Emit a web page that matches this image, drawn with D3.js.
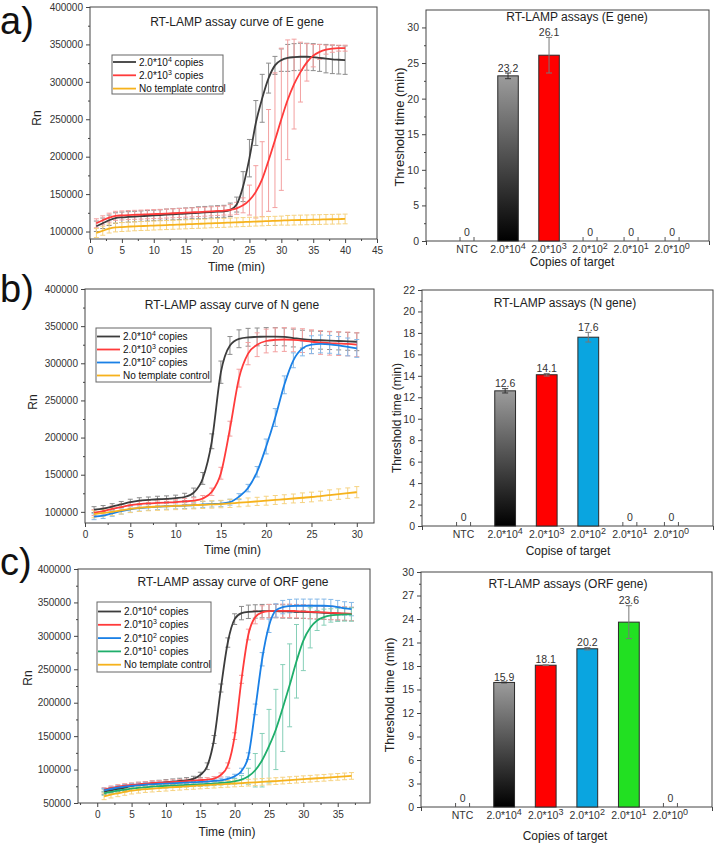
<!DOCTYPE html>
<html><head><meta charset="utf-8">
<script src="https://cdn.jsdelivr.net/npm/d3@7"></script>
<style>body{margin:0;background:#fff} svg{display:block} text{font-family:"Liberation Sans",Arial,sans-serif}</style>
</head><body><svg id="c" width="715" height="845"></svg>
<script>
// ---------- Panel a (E gene) ----------
const aTime = [1,2,3,4,5,6,7,8,9,10,11,12,13,14,15,16,17,18,19,20,21,22,23,24,25,26,27,28,29,30,31,32,33,34,35,36,37,38,39,40];
const aBlack = [107000,111000,115000,118000,119000,119500,120000,120500,121000,121500,122000,122500,123000,123500,124000,124500,125000,125500,126000,126500,127000,129000,136000,160000,198000,245000,278000,305000,322000,329000,332000,333000,333500,333500,333000,332000,331000,330000,329500,329000];
const aBlackErr = [7000,7000,7000,7000,7000,7000,7000,7000,7000,7000,7000,7500,7500,7500,7500,7500,8000,8000,8000,8000,8000,9000,10000,20000,25000,30000,32000,20000,12000,15000,18000,18000,18000,18000,18000,18000,19000,19000,19000,19000];
const aRed = [111000,115000,118500,121000,121500,122000,122300,122600,123000,123300,123600,124000,124400,124800,125200,125600,126000,126500,127000,127500,128000,129000,131000,135000,142000,153000,170000,195000,222000,250000,276000,297000,313000,326000,335000,340000,343000,344500,345000,345000];
const aRedErr = [6000,6000,6000,6000,6000,6000,6000,6000,6000,6000,6000,6000,6000,6000,6000,6000,6000,6000,6000,6000,6000,7000,8000,10000,20000,35000,50000,68000,90000,95000,80000,60000,40000,25000,15000,10000,6000,5000,4000,4000];
const aNTC = [98000,101000,104000,105500,106000,106500,107000,107300,107600,108000,108300,108600,109000,109300,109600,110000,110300,110600,111000,111300,111600,112000,112300,112600,113000,113300,113600,114000,114300,114600,115000,115200,115400,115600,115800,116000,116200,116400,116600,116800];
const aNTCErr = [6000,6000,6000,6000,6000,6000,6000,6000,6000,6000,6000,6000,6000,6000,6000,6000,6000,6000,6000,6000,6000,6000,6000,6000,6000,6000,6000,6000,6000,6000,6500,6500,6500,6500,6500,6500,6500,6500,6500,6500];

// ---------- Panel b (N gene) ----------
const bTime = [1,2,3,4,5,6,7,8,9,10,11,12,13,14,15,16,17,18,19,20,21,22,23,24,25,26,27,28,29,30];
const bBlack = [103000,104500,107000,110000,113000,115000,116000,117000,117500,118500,120000,126000,145000,195000,288000,324000,333000,335000,335500,336000,336000,335500,334000,332500,331500,331000,330500,330000,329500,329000];
const bBlackErr = [4000,4000,4000,4000,4000,4000,4000,4000,4000,4000,5000,6000,8000,10000,15000,12000,12000,12000,12000,12000,12000,12000,12000,12000,12000,12000,12000,12000,12000,12000];
const bRed = [99000,101000,104000,106500,109000,110500,111500,112000,112500,113000,114000,115000,118000,127000,152000,212000,280000,313000,325000,330000,331500,332000,331500,330500,329000,328000,327000,326500,326000,325000];
const bRedErr = [4000,4000,4000,4000,4000,4000,4000,4000,4000,4000,4000,4000,4000,5000,8000,10000,12000,15000,16000,16000,16000,16000,16000,16000,16000,16000,16000,16000,16000,16000];
const bBlue = [93500,95000,98000,101000,103500,105000,106000,107000,107500,108000,108500,109000,110000,110500,111000,113000,120500,132000,154000,188000,227000,271000,304000,320000,325000,326000,325500,324000,322000,320000];
const bBlueErr = [4000,4000,4000,4000,4000,4000,4000,4000,4000,4000,4000,4000,4000,4000,4000,4000,4000,5000,7000,10000,12000,12000,10000,10000,12000,12000,12000,12000,12000,12000];
const bNTC = [97000,98500,100000,102000,104000,105500,106500,107000,107500,108000,108500,109000,109500,110000,110500,111400,112300,113200,114100,115000,116000,117000,118000,119000,120000,121300,122600,123900,125200,126500];
const bNTCErr = [5000,5000,5000,5000,5000,5000,5000,5000,5000,5000,5000,5000,5000,5000,5000,5500,5500,5500,5500,6000,6000,6000,6000,6500,6500,6500,7000,7000,7000,7500];

// ---------- Panel c (ORF gene) ----------
const cTime = [1,2,3,4,5,6,7,8,9,10,11,12,13,14,15,16,17,18,19,20,21,22,23,24,25,26,27,28,29,30,31,32,33,34,35,36,37];
const cBlack = [67000,69000,71000,73000,75500,77000,78000,79000,80000,81000,82000,83000,84000,86000,92000,105000,145000,222000,290000,325000,334000,336000,336500,337000,337000,337000,336500,336500,336000,336000,335500,335000,334500,334000,333500,333000,332500];
const cBlackErr = [4000,4000,4000,4000,4000,4000,4000,4000,4000,4000,4000,4000,4000,4000,4000,5000,6000,6000,7000,8000,10000,10000,10000,10000,10000,10000,10000,10000,10000,10000,10000,10000,10000,10000,10000,10000,10000];
const cRed = [70000,72500,74500,76000,77000,78000,79000,80000,80500,81000,81500,82000,82800,83500,84200,85000,86500,92000,106000,150000,235000,302000,328000,335000,337000,337500,337500,337500,337000,336500,336000,335500,335000,334500,334000,333500,333000];
const cRedErr = [3000,3000,3000,3000,3000,3000,3000,3000,3000,3000,3000,3000,3000,3000,3000,3000,3000,3000,4000,5000,6000,8000,10000,10000,10000,10000,10000,10000,10000,10000,10000,10000,10000,10000,10000,10000,10000];
const cBlue = [69000,71000,73000,74500,75500,76500,77500,78000,78500,79000,79500,80000,80500,81000,81500,82000,83000,84000,86000,90000,98000,120000,190000,265000,315000,338000,343000,344500,345000,345000,345000,345000,345000,344500,343000,341000,340000];
const cBlueErr = [3000,3000,3000,3000,3000,3000,3000,3000,3000,3000,3000,3000,3000,3000,3000,3000,3000,3000,3000,3000,4000,5000,8000,10000,10000,10000,10000,10000,10000,10000,10000,10000,10000,10000,10000,10000,10000];
const cGreen = [64500,66500,68500,70000,71500,72500,73500,74500,75000,75500,76000,76500,77000,77500,78000,78500,79000,80000,81000,82500,85000,90000,99000,114000,135000,160000,192000,226000,262000,293000,312000,323000,328000,330500,331500,332000,332000];
const cGreenErr = [3000,3000,3000,3000,3000,3000,3000,3000,3000,3000,3000,3000,3000,3000,3000,3000,3000,3000,3000,4000,6000,12000,25000,40000,55000,60000,65000,62000,55000,45000,30000,15000,12000,10000,10000,10000,10000];
const cNTC = [60000,62500,64500,66500,68500,69800,70800,71500,72200,72900,73600,74300,75000,75600,76200,76800,77400,78000,78600,79200,79800,80400,81000,81600,82200,82800,83500,84200,84900,85600,86300,87000,87700,88400,89100,89800,90500];
const cNTCErr = [5000,5000,5000,5000,5000,5000,5000,5000,5000,5000,5000,5000,5000,5000,5000,5000,5000,5000,5000,5000,5000,5000,5000,5000,5000,5000,5000,5000,5000,5000,5000,5000,5000,5000,5000,5000,5000];

// ---------- Bar charts ----------
const barCats = ["NTC","2.0*10^4","2.0*10^3","2.0*10^2","2.0*10^1","2.0*10^0"];
const aBarVals = [0,23.2,26.1,0,0,0];
const aBarErr  = [0,0.4,2.5,0,0,0];
const bBarVals = [0,12.6,14.1,17.6,0,0];
const bBarErr  = [0,0.2,0.12,0.45,0,0];
const cBarVals = [0,15.9,18.1,20.2,23.6,0];
const cBarErr  = [0,0.05,0.05,0.15,2.1,0];

const legendE = ["2.0*10^4 copies","2.0*10^3 copies","No template control"];
const legendN = ["2.0*10^4 copies","2.0*10^3 copies","2.0*10^2 copies","No template control"];
const legendORF = ["2.0*10^4 copies","2.0*10^3 copies","2.0*10^2 copies","2.0*10^1 copies","No template control"];

const COL = {k:"#3c3c3c", r:"#ff3b3b", b:"#1a80e6", g:"#1fae6b", o:"#f6b21c"};
const ECOL = {k:"#8c8c8c", r:"#f3a0a0", b:"#86b9e8", g:"#86cfb8", o:"#f6d382"};
const BARCOL = [null, "url(#gradK)", "#ff0000", "#0aa5e0", "#22e022", null];

const svg = d3.select("#c");
const defs = svg.append("defs");
const gr = defs.append("linearGradient").attr("id","gradK").attr("x1",0).attr("y1",1).attr("x2",0).attr("y2",0);
gr.append("stop").attr("offset","0%").attr("stop-color","#000");
gr.append("stop").attr("offset","100%").attr("stop-color","#9c9c9c");

function richText(sel, str, supSize, supDy){
  const parts = str.split("^");
  if (parts.length === 1){ sel.text(str); return; }
  const m = parts[1].match(/^(\d+)(.*)$/);
  sel.append("tspan").text(parts[0]);
  sel.append("tspan").attr("font-size", supSize).attr("dy", -supDy).text(m[1]);
  if (m[2]) sel.append("tspan").attr("dy", supDy).text(m[2]);
}

function styleAxis(g, fs){
  g.select(".domain").remove();
  g.selectAll(".tick line").attr("stroke","#444");
  g.selectAll(".tick text").attr("fill","#333").attr("font-size",fs).attr("font-family","Liberation Sans, Arial, sans-serif");
}

function lineChart(o){
  const g = svg.append("g");
  const x = d3.scaleLinear().domain(o.xDom).range([o.L,o.R]);
  const y = d3.scaleLinear().domain(o.yDom).range([o.B,o.T]);
  const yg = g.append("g").attr("transform",`translate(${o.L},0)`)
    .call(d3.axisLeft(y).tickValues(o.yTicks).tickSize(4).tickPadding(3).tickFormat(d3.format("d")));
  styleAxis(yg, 10);
  const ym = g.append("g").attr("transform",`translate(${o.L},0)`)
    .call(d3.axisLeft(y).tickValues(o.yMinor).tickSize(2).tickFormat(""));
  styleAxis(ym, 10);
  const xg = g.append("g").attr("transform",`translate(0,${o.B})`)
    .call(d3.axisBottom(x).tickValues(o.xTicks).tickSize(4).tickPadding(4).tickFormat(d3.format("d")));
  styleAxis(xg, 10);
  const xm = g.append("g").attr("transform",`translate(0,${o.B})`)
    .call(d3.axisBottom(x).tickValues(o.xMinor).tickSize(2).tickFormat(""));
  styleAxis(xm, 10);
  g.append("rect").attr("x",o.L).attr("y",o.T).attr("width",o.R-o.L).attr("height",o.B-o.T)
    .attr("fill","none").attr("stroke","#444").attr("stroke-width",1);
  o.series.forEach(s=>{
    const eg = g.append("g").attr("stroke",ECOL[s.c]).attr("stroke-width",1);
    o.t.forEach((t,i)=>{
      const xx = x(t), y1 = y(s.v[i]-s.e[i]), y2 = y(s.v[i]+s.e[i]);
      eg.append("line").attr("x1",xx).attr("x2",xx).attr("y1",y1).attr("y2",y2);
      eg.append("line").attr("x1",xx-2.5).attr("x2",xx+2.5).attr("y1",y1).attr("y2",y1);
      eg.append("line").attr("x1",xx-2.5).attr("x2",xx+2.5).attr("y1",y2).attr("y2",y2);
    });
  });
  const line = d3.line().curve(d3.curveMonotoneX);
  o.series.forEach(s=>{
    g.append("path").attr("d", line(o.t.map((t,i)=>[x(t), y(s.v[i])])))
      .attr("fill","none").attr("stroke",COL[s.c]).attr("stroke-width",1.8);
  });
  const lg = o.legend;
  g.append("rect").attr("x",lg.x0).attr("y",lg.y0).attr("width",lg.x1-lg.x0).attr("height",lg.y1-lg.y0)
    .attr("fill","#fff").attr("stroke","#666").attr("stroke-width",1);
  lg.items.forEach((it,i)=>{
    const yy = lg.y0 + lg.first + i*lg.step;
    g.append("line").attr("x1",lg.x0+1).attr("x2",lg.x0+24).attr("y1",yy).attr("y2",yy)
      .attr("stroke",COL[o.series[lg.map[i]].c]).attr("stroke-width",1.8);
    const t = g.append("text").attr("x",lg.x0+27).attr("y",yy+3.5).attr("font-size",10).attr("fill","#111");
    richText(t, it, 7, 4);
  });
  g.append("text").attr("x",o.titleX).attr("y",o.titleY).attr("text-anchor","middle").attr("font-size",12).attr("fill","#222").text(o.title);
  g.append("text").attr("x",(o.L+o.R)/2+3).attr("y",o.xLabY).attr("text-anchor","middle").attr("font-size",12).attr("fill","#222").text("Time (min)");
  g.append("text").attr("transform",`translate(${o.yLabX},${o.yLabY}) rotate(-90)`).attr("text-anchor","middle").attr("font-size",12).attr("fill","#222").text("Rn");
}

function barChart(o){
  const g = svg.append("g");
  const x = d3.scaleLinear().domain([0,o.xMax]).range([o.L,o.R]);
  const y = d3.scaleLinear().domain(o.yDom).range([o.B,o.T]);
  const yg = g.append("g").attr("transform",`translate(${o.L},0)`)
    .call(d3.axisLeft(y).tickValues(o.yTicks).tickSize(4).tickPadding(3).tickFormat(d3.format("d")));
  styleAxis(yg, 10.5);
  const ym = g.append("g").attr("transform",`translate(${o.L},0)`)
    .call(d3.axisLeft(y).tickValues(o.yMinor).tickSize(2).tickFormat(""));
  styleAxis(ym, 10);
  const xg = g.append("g").attr("transform",`translate(0,${o.B})`)
    .call(d3.axisBottom(x).tickValues([0,o.xMax]).tickSize(4).tickFormat(""));
  styleAxis(xg, 10);
  g.append("rect").attr("x",o.L).attr("y",o.T).attr("width",o.R-o.L).attr("height",o.B-o.T)
    .attr("fill","none").attr("stroke","#444").attr("stroke-width",1);
  const bw = x(0.5)-x(0);
  o.vals.forEach((v,i)=>{
    const cx = x(i+1);
    if (v > 0){
      g.append("rect").attr("x",cx-bw/2).attr("y",y(v)).attr("width",bw).attr("height",y(0)-y(v))
        .attr("fill",BARCOL[i]).attr("stroke","#2a2a2a").attr("stroke-width",1);
      const e = o.errs[i], y1 = y(v-e), y2 = y(v+e);
      const eg = g.append("g").attr("stroke", i===1 ? "#333" : "#777").attr("stroke-width",1);
      eg.append("line").attr("x1",cx).attr("x2",cx).attr("y1",y1).attr("y2",y2);
      eg.append("line").attr("x1",cx-3).attr("x2",cx+3).attr("y1",y1).attr("y2",y1);
      eg.append("line").attr("x1",cx-3).attr("x2",cx+3).attr("y1",y2).attr("y2",y2);
      g.append("text").attr("x",cx).attr("y",y2-1.5).attr("text-anchor","middle").attr("font-size",10.5).attr("fill","#333").text(v.toFixed(1));
    } else {
      [-7,7].forEach(d=>g.append("line").attr("x1",cx+d).attr("x2",cx+d).attr("y1",o.B).attr("y2",o.B-4).attr("stroke","#555"));
      g.append("text").attr("x",cx).attr("y",o.B-5).attr("text-anchor","middle").attr("font-size",10.5).attr("fill","#333").text("0");
    }
    const t = g.append("text").attr("x",cx).attr("y",o.B+12).attr("text-anchor","middle").attr("font-size",10.5).attr("fill","#333");
    richText(t, barCats[i], 9, 4);
  });
  g.append("text").attr("x",o.titleX).attr("y",o.titleY).attr("text-anchor","middle").attr("font-size",12).attr("fill","#222").text(o.title);
  g.append("text").attr("x",o.xLabX).attr("y",o.xLabY).attr("text-anchor","middle").attr("font-size",12).attr("fill","#222").text(o.xLab);
  g.append("text").attr("transform",`translate(${o.yLabX},${o.yLabY}) rotate(-90)`).attr("text-anchor","middle").attr("font-size",o.yLabSize).attr("fill","#222").text("Threshold time (min)");
}

[["a)",34],["b)",302],["c)",575]].forEach(([s,yy])=>{
  svg.append("text").attr("x",0).attr("y",yy).attr("font-size",38).attr("fill","#111").text(s);
});

lineChart({L:90,R:377,T:7,B:239,xDom:[0,45],yDom:[90000,400000],
  xTicks:[0,5,10,15,20,25,30,35,40,45], xMinor:[2.5,7.5,12.5,17.5,22.5,27.5,32.5,37.5,42.5],
  yTicks:[100000,150000,200000,250000,300000,350000,400000], yMinor:[125000,175000,225000,275000,325000,375000],
  t:aTime, series:[{v:aBlack,e:aBlackErr,c:"k"},{v:aRed,e:aRedErr,c:"r"},{v:aNTC,e:aNTCErr,c:"o"}],
  legend:{x0:112,x1:223,y0:55,y1:94,first:7,step:13.3,items:legendE,map:[0,1,2]},
  title:"RT-LAMP assay curve of E gene", titleX:237, titleY:26, xLabY:271, yLabX:41, yLabY:118});

lineChart({L:85,R:374,T:289,B:523,xDom:[0,31.9],yDom:[85000,400000],
  xTicks:[0,5,10,15,20,25,30], xMinor:[2.5,7.5,12.5,17.5,22.5,27.5],
  yTicks:[100000,150000,200000,250000,300000,350000,400000], yMinor:[125000,175000,225000,275000,325000,375000],
  t:bTime, series:[{v:bBlack,e:bBlackErr,c:"k"},{v:bRed,e:bRedErr,c:"r"},{v:bBlue,e:bBlueErr,c:"b"},{v:bNTC,e:bNTCErr,c:"o"}],
  legend:{x0:96,x1:211,y0:328,y1:382,first:8.5,step:13,items:legendN,map:[0,1,2,3]},
  title:"RT-LAMP assay curve of N gene", titleX:232, titleY:309, xLabY:554, yLabX:37, yLabY:402});

lineChart({L:78,R:370,T:569,B:803,xDom:[-2.8,39.7],yDom:[50000,400000],
  xTicks:[0,5,10,15,20,25,30,35], xMinor:[-2.5,2.5,7.5,12.5,17.5,22.5,27.5,32.5,37.5],
  yTicks:[50000,100000,150000,200000,250000,300000,350000,400000], yMinor:[75000,125000,175000,225000,275000,325000,375000],
  t:cTime, series:[{v:cBlack,e:cBlackErr,c:"k"},{v:cRed,e:cRedErr,c:"r"},{v:cBlue,e:cBlueErr,c:"b"},{v:cGreen,e:cGreenErr,c:"g"},{v:cNTC,e:cNTCErr,c:"o"}],
  legend:{x0:97,x1:211,y0:602,y1:672,first:9.5,step:13.3,items:legendORF,map:[0,1,2,3,4]},
  title:"RT-LAMP assay curve of ORF gene", titleX:233, titleY:586, xLabY:836, yLabX:32, yLabY:678});

barChart({L:426,R:709,T:10,B:241,xMax:6.9,yDom:[0,32.45],
  yTicks:[0,5,10,15,20,25,30], yMinor:[2.5,7.5,12.5,17.5,22.5,27.5],
  vals:aBarVals, errs:aBarErr, title:"RT-LAMP assays (E gene)", titleX:577, titleY:21,
  xLab:"Copies of target", xLabX:572, xLabY:266, yLabX:404, yLabY:127, yLabSize:13});

barChart({L:422,R:713,T:290,B:526,xMax:7,yDom:[0,22],
  yTicks:[0,2,4,6,8,10,12,14,16,18,20,22], yMinor:[1,3,5,7,9,11,13,15,17,19,21],
  vals:bBarVals, errs:bBarErr, title:"RT-LAMP assays (N gene)", titleX:565, titleY:307,
  xLab:"Copise of target", xLabX:568, xLabY:555, yLabX:401, yLabY:418, yLabSize:12});

barChart({L:421,R:712,T:572,B:807,xMax:7,yDom:[0,30],
  yTicks:[0,3,6,9,12,15,18,21,24,27,30], yMinor:[1.5,4.5,7.5,10.5,13.5,16.5,19.5,22.5,25.5,28.5],
  vals:cBarVals, errs:cBarErr, title:"RT-LAMP assays (ORF gene)", titleX:568, titleY:588,
  xLab:"Copies of target", xLabX:565, xLabY:840, yLabX:394, yLabY:695, yLabSize:12.5});
</script></body></html>
